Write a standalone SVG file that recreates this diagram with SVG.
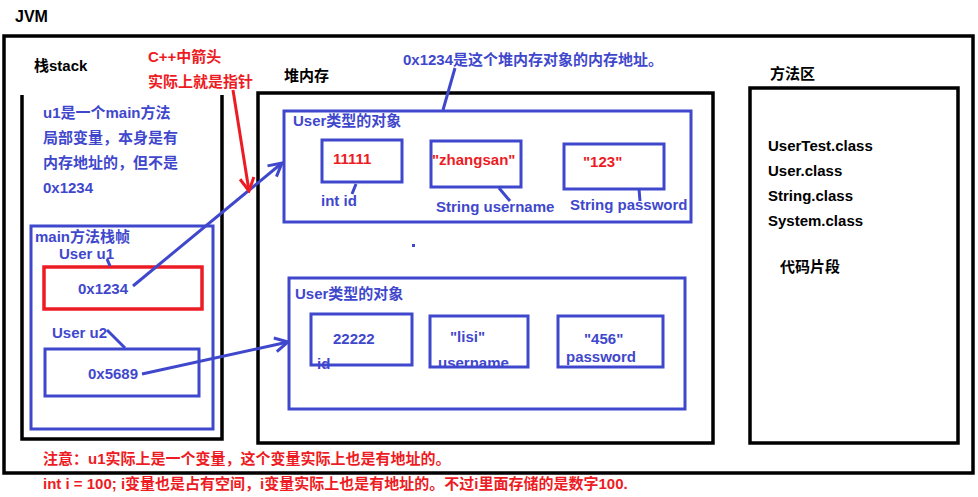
<svg xmlns="http://www.w3.org/2000/svg" width="978" height="497" viewBox="0 0 978 497">
<style>
.t{font-family:"Liberation Sans","Noto Sans CJK SC",sans-serif;font-weight:bold;font-size:15px}
.k{fill:#000}
.b{fill:#3f48cc}
.r{fill:#ed1c24}
.kb{fill:none;stroke:#000;stroke-width:3.5}
.bb{fill:none;stroke:#3f48cc;stroke-width:3}
.rb{fill:none;stroke:#ed1c24;stroke-width:3.5}
.bl{fill:none;stroke:#3f48cc;stroke-width:3}
.rl{fill:none;stroke:#ed1c24;stroke-width:3}
</style>
<defs>
<marker id="ab" viewBox="0 0 18 18" refX="16" refY="9" markerWidth="18" markerHeight="18" markerUnits="userSpaceOnUse" orient="auto">
<path d="M3,2 L16,9 L3,16" fill="none" stroke="#3f48cc" stroke-width="3"/>
</marker>
<marker id="ar" viewBox="0 0 18 18" refX="16" refY="9" markerWidth="18" markerHeight="18" markerUnits="userSpaceOnUse" orient="auto">
<path d="M3,2 L16,9 L3,16" fill="none" stroke="#ed1c24" stroke-width="3"/>
</marker>
</defs>
<rect width="978" height="497" fill="#fff"/>

<g id="jvm">
<text class="t k" x="15" y="22" style="font-size:16px">JVM</text>
<rect class="kb" x="4" y="36" width="969" height="437"/>
</g>

<g id="stack">
<text class="t k" x="34" y="71">栈stack</text>
<path class="kb" d="M22,95 V439 H222 V95"/>
<text class="t b" x="43" y="118">u1是一个main方法</text>
<text class="t b" x="43" y="143">局部变量，本身是有</text>
<text class="t b" x="43" y="168">内存地址的，但不是</text>
<text class="t b" x="43" y="193">0x1234</text>
</g>

<g id="pointer-note">
<text class="t r" x="148" y="62">C++中箭头</text>
<text class="t r" x="148" y="87">实际上就是指针</text>
</g>

<g id="main-frame">
<rect class="bb" x="31" y="226" width="182" height="203"/>
<text class="t b" x="35" y="242">main方法栈帧</text>
</g>

<g id="u1">
<text class="t b" x="59" y="259">User u1</text>
<rect class="rb" x="44" y="267" width="158" height="42"/>
<text class="t b" x="78" y="294">0x1234</text>
</g>

<g id="u2">
<text class="t b" x="52" y="338">User u2</text>
<rect class="bb" x="45" y="349" width="154" height="47"/>
<text class="t b" x="88" y="379">0x5689</text>
</g>

<g id="heap">
<text class="t k" x="284" y="81">堆内存</text>
<rect class="kb" x="258" y="93" width="455" height="350"/>
<rect x="412" y="244" width="3" height="3" fill="#3f48cc"/>
</g>

<g id="heap-note">
<text class="t b" x="403" y="65">0x1234是这个堆内存对象的内存地址。</text>
</g>

<g id="user1">
<rect class="bb" x="284" y="111" width="407" height="111"/>
<text class="t b" x="293" y="126">User类型的对象</text>
<rect class="bb" x="322" y="140" width="80" height="42"/>
<text class="t r" x="333" y="164">11111</text>
<text class="t b" x="321" y="206">int id</text>
<rect class="bb" x="431" y="141" width="90" height="46"/>
<text class="t r" x="432" y="165">"zhangsan"</text>
<text class="t b" x="436" y="212">String username</text>
<rect class="bb" x="564" y="144" width="100" height="45"/>
<text class="t r" x="583" y="167">"123"</text>
<text class="t b" x="570" y="210">String password</text>
</g>

<g id="user2">
<rect class="bb" x="289" y="278" width="396" height="131"/>
<text class="t b" x="295" y="299">User类型的对象</text>
<rect class="bb" x="311" y="314" width="101" height="51"/>
<text class="t b" x="333" y="344">22222</text>
<text class="t b" x="317" y="369">id</text>
<rect class="bb" x="430" y="316" width="98" height="51"/>
<text class="t b" x="450" y="342">"lisi"</text>
<text class="t b" x="438" y="368">username</text>
<rect class="bb" x="558" y="316" width="105" height="51"/>
<text class="t b" x="584" y="344">"456"</text>
<text class="t b" x="566" y="362">password</text>
</g>

<g id="method-area">
<text class="t k" x="770" y="79">方法区</text>
<rect class="kb" x="750" y="88" width="208" height="355"/>
<text class="t k" x="768" y="151">UserTest.class</text>
<text class="t k" x="768" y="176">User.class</text>
<text class="t k" x="768" y="201">String.class</text>
<text class="t k" x="768" y="226">System.class</text>
<text class="t k" x="780" y="272">代码片段</text>
</g>

<g id="notes">
<text class="t r" x="43" y="464">注意：u1实际上是一个变量，这个变量实际上也是有地址的。</text>
<text class="t r" x="43" y="489">int i = 100; i变量也是占有空间，i变量实际上也是有地址的。不过i里面存储的是数字100.</text>
</g>

<g id="connectors">
<line class="bl" x1="133" y1="286" x2="282" y2="163" marker-end="url(#ab)"/>
<line class="bl" x1="142" y1="374" x2="288" y2="342" marker-end="url(#ab)"/>
<line class="rl" x1="233" y1="90" x2="249" y2="191" marker-end="url(#ar)"/>
<line class="bl" x1="455" y1="68" x2="443" y2="110"/>
<line class="bl" x1="107" y1="259" x2="110" y2="266"/>
<line class="bl" x1="107" y1="330" x2="125" y2="348"/>
<line class="bl" x1="356" y1="184" x2="352" y2="194"/>
<line class="bl" x1="499" y1="188" x2="510" y2="201"/>
<line class="bl" x1="639" y1="189" x2="640" y2="201"/>
</g>
</svg>
